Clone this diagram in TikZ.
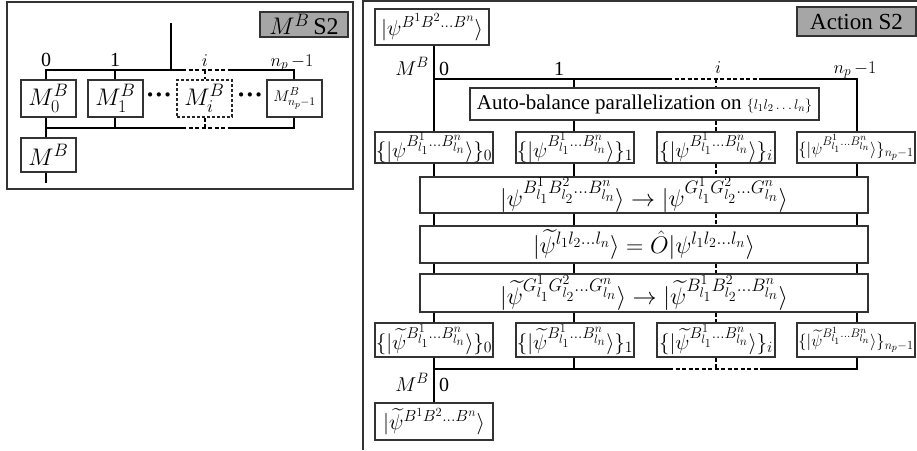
\RequirePackage{fix-cm}
\documentclass[tikz,border=0pt]{standalone}
\usepackage[no-math]{fontspec}
\setmainfont{Liberation Serif}
\usepackage{amsmath}
\renewcommand{\defaultscriptratio}{.75}
\renewcommand{\defaultscriptscriptratio}{.58}
\newcommand{\fsz}[1]{\fontsize{#1}{#1}\selectfont}
\begin{document}
\begin{tikzpicture}[x=1pt,y=-1pt,
  frm/.style={draw=black!80, line width=1.2pt},
  bx/.style={draw=black!80, line width=1.1pt, inner sep=0pt, fill=white},
  dbx/.style={draw=black!85, line width=1.8pt, dash pattern=on 3pt off 2pt, inner sep=0pt},
  tagbox/.style={bx, fill=black!35},
  sbox/.style={bx, minimum width=118pt, minimum height=31pt},
  tbox/.style={bx, minimum width=118pt, minimum height=34pt},
  mbox/.style={bx, minimum width=55pt, minimum height=37pt},
  bigbox/.style={bx, minimum width=448pt},
  bus/.style={line width=2.4pt},
  dbus/.style={line width=2.2pt, dash pattern=on 4pt off 2.5pt},
  lbl/.style={inner sep=0pt},
]
\useasboundingbox (0,0) rectangle (917,450);

% ---------------- left panel ----------------
\draw[frm] (7,2) rectangle (353,189);
\node[tagbox, minimum width=88pt, minimum height=25pt, font=\fsz{24}] (tagL) at (304,24.5) {$M^B$\thinspace S2};

\coordinate (Ltop) at (171,23);
\coordinate (Lj) at (171,70);
\coordinate (L0) at (46,70);
\coordinate (L1) at (115,70);
\coordinate (Li) at (205,70);
\coordinate (Ln) at (294,70);
\coordinate (Ld1) at (182,70);
\coordinate (Ld2) at (228,70);
\coordinate (B0) at (46,128);
\coordinate (Bd1) at (182,128);
\coordinate (Bd2) at (228,128);
\coordinate (Bn) at (294,128);
\coordinate (Lend) at (46,183);

\node[mbox, font=\fsz{24}] (m0) at (48.5,98.5) {$M_0^B$};
\node[mbox, font=\fsz{24}] (m1) at (115.5,98.5) {$M_1^B$};
\node[mbox, dbx, font=\fsz{24}] (mi) at (204.5,98.5) {$M_i^B$};
\node[mbox, font=\fsz{15.5}] (mn) at (294.5,98.5) {$M^B_{n_p-1}$};
\node[mbox, minimum height=34pt, font=\fsz{24}] (mB) at (48.5,155) {$M^B$};
\node[lbl, font=\bfseries\fsz{26}] (dots1) at (159,98) {···};
\node[lbl, font=\bfseries\fsz{26}] (dots2) at (250,98) {···};

\node[lbl, anchor=base, font=\fsz{20}] (la0) at (46,66) {0};
\node[lbl, anchor=base, font=\fsz{20}] (la1) at (115,66) {1};
\node[lbl, anchor=base, font=\fsz{18}] (lai) at (205,66) {$i$};
\node[lbl, anchor=base, font=\fsz{18}] (lan) at (292,66) {$n_p\,{-}1$};

\draw[bus] (Ltop) -- (Lj);
\draw[bus] (L0 |- m0.north) -- (L0) -- (Ld1);
\draw[dbus] (Ld1) -- (Ld2);
\draw[bus] (Ld2) -- (Ln) -- (Ln |- mn.north);
\draw[bus] (L1) -- (L1 |- m1.north);
\draw[dbus] (Li) -- (Li |- mi.north);
\draw[bus] (L0 |- m0.south) -- (L0 |- mB.north);
\draw[bus] (B0) -- (Bd1);
\draw[dbus] (Bd1) -- (Bd2);
\draw[bus] (Bd2) -- (Bn) -- (Ln |- mn.south);
\draw[bus] (L1 |- m1.south) -- (L1 |- B0);
\draw[dbus] (Li |- mi.south) -- (Li |- B0);
\draw[bus] (L0 |- mB.south) -- (Lend);

% ---------------- right panel ----------------
\draw[frm] (363,450) -- (363,1) -- (917,1);

\coordinate (C0) at (434,79);
\coordinate (C1) at (574,79);
\coordinate (Ci) at (716,79);
\coordinate (Cn) at (857,79);
\coordinate (D1) at (668,79);
\coordinate (D2) at (763,79);
\coordinate (E0) at (434,369);
\coordinate (E1) at (669,369);
\coordinate (E2) at (760,369);
\coordinate (En) at (857,369);

\node[bx, minimum width=114pt, minimum height=36pt, font=\fsz{21.5}] (psiT) at (432,27) {$|\psi^{B^1B^2\ldots B^n}\rangle$};
\node[tagbox, minimum width=119pt, minimum height=29pt, font=\fsz{23}] (tagR) at (856.5,21.5) {Action S2};
\node[bx, minimum width=349pt, minimum height=32pt, font=\fsz{21}] (auto) at (644.5,104) {Auto-balance parallelization on {\fsz{14}$\{l_1l_2\ldots l_n\}$}};

\node[sbox, font=\fsz{21}] (s0) at (434,147.5) {$\{|\psi^{B^1_{l_1}\ldots B^n_{l_n}}\rangle\}_0$};
\node[sbox, font=\fsz{21}] (s1) at (575,147.5) {$\{|\psi^{B^1_{l_1}\ldots B^n_{l_n}}\rangle\}_1$};
\node[sbox, font=\fsz{21}] (si) at (716,147.5) {$\{|\psi^{B^1_{l_1}\ldots B^n_{l_n}}\rangle\}_i$};
\node[sbox, font=\fsz{16.5}] (sn) at (856,147.5) {$\{|\psi^{B^1_{l_1}\ldots B^n_{l_n}}\rangle\}_{n_p-1}$};

\node[bigbox, minimum height=36pt, font=\fsz{24}] (big1) at (644,195) {$|\psi^{B^1_{l_1}B^2_{l_2}\ldots B^n_{l_n}}\rangle \rightarrow |\psi^{G^1_{l_1}G^2_{l_2}\ldots G^n_{l_n}}\rangle$};
\node[bigbox, minimum height=37pt, font=\fsz{24}] (big2) at (644,244.5) {$|\widetilde{\psi}^{l_1l_2\ldots l_n}\rangle = \hat{O}|\psi^{l_1l_2\ldots l_n}\rangle$};
\node[bigbox, minimum height=38pt, font=\fsz{24}] (big3) at (644,293) {$|\widetilde{\psi}^{G^1_{l_1}G^2_{l_2}\ldots G^n_{l_n}}\rangle \rightarrow |\widetilde{\psi}^{B^1_{l_1}B^2_{l_2}\ldots B^n_{l_n}}\rangle$};

\node[tbox, font=\fsz{21}] (t0) at (434,340) {$\{|\widetilde{\psi}^{B^1_{l_1}\ldots B^n_{l_n}}\rangle\}_0$};
\node[tbox, font=\fsz{21}] (t1) at (575,340) {$\{|\widetilde{\psi}^{B^1_{l_1}\ldots B^n_{l_n}}\rangle\}_1$};
\node[tbox, font=\fsz{21}] (ti) at (716,340) {$\{|\widetilde{\psi}^{B^1_{l_1}\ldots B^n_{l_n}}\rangle\}_i$};
\node[tbox, font=\fsz{16.5}] (tn) at (856,340) {$\{|\widetilde{\psi}^{B^1_{l_1}\ldots B^n_{l_n}}\rangle\}_{n_p-1}$};

\node[bx, minimum width=118pt, minimum height=37pt, font=\fsz{21.5}] (psiB) at (434,421.5) {$|\widetilde{\psi}^{B^1B^2\ldots B^n}\rangle$};

\node[lbl, anchor=base east, font=\fsz{20}] (rM1) at (429,75) {$M^B$};
\node[lbl, anchor=base west, font=\fsz{20}] (r0a) at (439,75) {0};
\node[lbl, anchor=base, font=\fsz{20}] (r1) at (559,75) {1};
\node[lbl, anchor=base, font=\fsz{18}] (ri) at (718,73) {$i$};
\node[lbl, anchor=base, font=\fsz{18}] (rn) at (855,73) {$n_p\,{-}1$};
\node[lbl, anchor=base east, font=\fsz{20}] (rM2) at (429,391) {$M^B$};
\node[lbl, anchor=base west, font=\fsz{20}] (r0b) at (439,391) {0};

\draw[bus] (C0 |- psiT.south) -- (C0 |- s0.north);
\draw[bus] (C0) -- (D1);
\draw[dbus] (D1) -- (D2);
\draw[bus] (D2) -- (Cn) -- (Cn |- sn.north);
\draw[bus] (C1) -- (C1 |- auto.north);
\draw[dbus] (Ci) -- (Ci |- auto.north);
\draw[bus] (C1 |- auto.south) -- (C1 |- s1.north);
\draw[dbus] (Ci |- auto.south) -- (Ci |- si.north);

\foreach \c/\up/\lo in {C0/s0/t0, C1/s1/t1, Cn/sn/tn} {
  \draw[bus] (\c |- \up.south) -- (\c |- big1.north);
  \draw[bus] (\c |- big1.south) -- (\c |- big2.north);
  \draw[bus] (\c |- big2.south) -- (\c |- big3.north);
  \draw[bus] (\c |- big3.south) -- (\c |- \lo.north);
}
\draw[dbus] (Ci |- si.south) -- (Ci |- big1.north);
\draw[dbus] (Ci |- big1.south) -- (Ci |- big2.north);
\draw[dbus] (Ci |- big2.south) -- (Ci |- big3.north);
\draw[dbus] (Ci |- big3.south) -- (Ci |- ti.north);

\draw[bus] (C0 |- t0.south) -- (C0 |- psiB.north);
\draw[bus] (E0) -- (E1);
\draw[dbus] (E1) -- (E2);
\draw[bus] (E2) -- (En) -- (Cn |- tn.south);
\draw[bus] (C1 |- t1.south) -- (C1 |- E0);
\draw[dbus] (Ci |- ti.south) -- (Ci |- E0);
\end{tikzpicture}
\end{document}
